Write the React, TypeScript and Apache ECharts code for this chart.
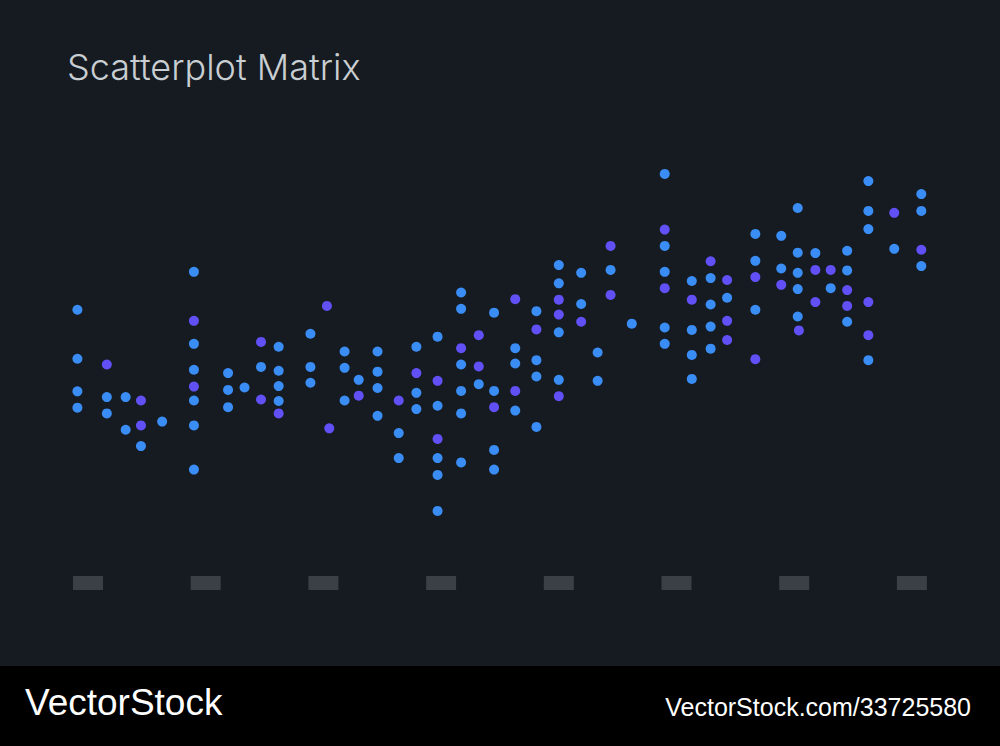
import React, { useEffect, useRef } from "react";
import * as echarts from "echarts";

const TITLE = "Scatterplot Matrix";
const X_TICKS = [0, 10, 20, 30, 40, 50, 60, 70];

// [x, y] pairs
const blueSeries: [number, number][] = [
  [-0.9, 56.3], [-0.9, 46.1], [-0.9, 39.3], [-0.9, 35.9],
  [1.6, 38.1], [1.6, 34.7],
  [3.2, 38.1], [3.2, 31.3],
  [4.5, 27.9],
  [6.3, 33.0],
  [9.0, 64.2], [9.0, 49.2], [9.0, 43.8], [9.0, 37.4], [9.0, 32.2], [9.0, 23.0],
  [11.9, 43.1], [11.9, 39.6], [11.9, 36.0],
  [13.3, 40.1],
  [14.7, 44.4],
  [16.2, 48.6], [16.2, 43.6], [16.2, 40.4], [16.2, 37.3],
  [18.9, 51.3], [18.9, 44.4], [18.9, 41.1],
  [21.8, 47.6], [21.8, 44.2], [21.8, 37.4],
  [23.0, 41.7],
  [24.6, 47.6], [24.6, 43.4], [24.6, 40.0], [24.6, 34.2],
  [26.4, 30.6], [26.4, 25.4],
  [27.9, 48.6], [27.9, 39.0], [27.9, 35.6],
  [29.7, 50.7], [29.7, 36.3], [29.7, 25.4], [29.7, 21.9], [29.7, 14.4],
  [31.7, 59.9], [31.7, 56.5], [31.7, 44.9], [31.7, 39.4], [31.7, 34.7], [31.7, 24.5],
  [33.2, 40.8],
  [34.5, 55.7], [34.5, 39.4], [34.5, 27.1], [34.5, 23.0],
  [36.3, 48.3], [36.3, 45.1], [36.3, 35.3],
  [38.1, 56.0], [38.1, 45.8], [38.1, 42.4], [38.1, 31.9],
  [40.0, 65.6], [40.0, 61.8], [40.0, 51.6], [40.0, 41.7],
  [41.9, 64.0], [41.9, 57.5],
  [43.3, 47.4], [43.3, 41.5],
  [44.4, 64.6],
  [46.2, 53.4],
  [49.0, 84.6], [49.0, 69.6], [49.0, 64.2], [49.0, 52.6], [49.0, 49.2],
  [51.3, 62.3], [51.3, 52.1], [51.3, 46.9], [51.3, 41.9],
  [52.9, 62.9], [52.9, 57.4], [52.9, 52.8], [52.9, 48.2],
  [54.3, 58.8],
  [56.7, 72.1], [56.7, 66.5], [56.7, 56.3],
  [58.9, 71.7], [58.9, 64.9],
  [60.3, 77.5], [60.3, 68.2], [60.3, 64.0], [60.3, 60.6], [60.3, 54.9],
  [61.8, 68.1],
  [63.1, 60.8],
  [64.5, 68.6], [64.5, 64.5], [64.5, 53.8],
  [66.3, 83.1], [66.3, 76.9], [66.3, 73.1], [66.3, 45.8],
  [68.5, 69.0],
  [70.8, 80.4], [70.8, 76.9], [70.8, 65.4],
];

const purpleSeries: [number, number][] = [
  [1.6, 44.9],
  [4.5, 37.4], [4.5, 32.2],
  [9.0, 54.0], [9.0, 40.3],
  [14.7, 49.6], [14.7, 37.6],
  [16.2, 34.7],
  [20.3, 57.1], [20.5, 31.6],
  [23.0, 38.4],
  [26.4, 37.4],
  [27.9, 43.1],
  [29.7, 41.5], [29.7, 29.4],
  [31.7, 48.3],
  [33.2, 51.0], [33.2, 44.5],
  [34.5, 36.0],
  [36.3, 58.5], [36.3, 39.4],
  [38.1, 52.2],
  [40.0, 58.4], [40.0, 55.3], [40.0, 38.3],
  [41.9, 53.8],
  [44.4, 69.6], [44.4, 59.4],
  [49.0, 73.0], [49.0, 60.8],
  [51.3, 58.4],
  [52.9, 66.4],
  [54.3, 62.5], [54.3, 54.0], [54.3, 50.0],
  [56.7, 63.1], [56.7, 46.0],
  [58.9, 61.5],
  [60.4, 52.0],
  [61.8, 64.6], [61.8, 57.9],
  [63.1, 64.6],
  [64.5, 60.4], [64.5, 57.1],
  [66.3, 57.9], [66.3, 51.0],
  [68.5, 76.5],
  [70.8, 68.8],
];

const BG = "#151b21";

export default function App() {
  const ref = useRef<HTMLDivElement>(null);
  useEffect(() => {
    if (!ref.current) return;
    const chart = echarts.init(ref.current, undefined, { renderer: "svg" });
    chart.setOption({
      animation: false,
      backgroundColor: BG,
      title: {
        text: TITLE,
        left: 62,
        top: 44,
        textStyle: {
          color: "#c9ced2",
          fontSize: 36,
          fontWeight: 300,
          fontFamily: "Inter",
        },
      },
      grid: { left: 64.46, right: 41.02, top: 100, bottom: 166, containLabel: false },
      xAxis: {
        type: "value",
        min: -2,
        max: 74,
        splitLine: { show: false },
        axisLine: { show: false },
        axisTick: { show: false },
        axisLabel: {
          customValues: X_TICKS,
          formatter: () => "{box|}",
          margin: -4,
          rich: {
            box: { width: 30, height: 14, backgroundColor: "#3a4045" },
          },
        },
      },
      yAxis: {
        type: "value",
        min: 0,
        max: 100,
        show: false,
        splitLine: { show: false },
      },
      series: [
        {
          type: "scatter",
          data: blueSeries,
          symbolSize: 10,
          itemStyle: { color: "#3a8df5", opacity: 1 },
        },
        {
          type: "scatter",
          data: purpleSeries,
          symbolSize: 10,
          itemStyle: { color: "#6150f5", opacity: 1 },
        },
      ],
      graphic: [
        {
          type: "rect",
          left: 0,
          top: 666,
          shape: { width: 1000, height: 80 },
          style: { fill: "#000000" },
        },
        {
          type: "text",
          left: 25,
          top: 684,
          style: {
            text: "VectorStock",
            fill: "#ffffff",
            font: "37px 'Liberation Sans', sans-serif",
          },
        },
        {
          type: "text",
          right: 29,
          top: 694,
          style: {
            text: "VectorStock.com/33725580",
            fill: "#ffffff",
            font: "25px 'Liberation Sans', sans-serif",
          },
        },
      ],
    });
    return () => chart.dispose();
  }, []);
  return (
    <div
      ref={ref}
      style={{ position: "fixed", left: 0, top: 0, width: 1000, height: 746 }}
    />
  );
}
